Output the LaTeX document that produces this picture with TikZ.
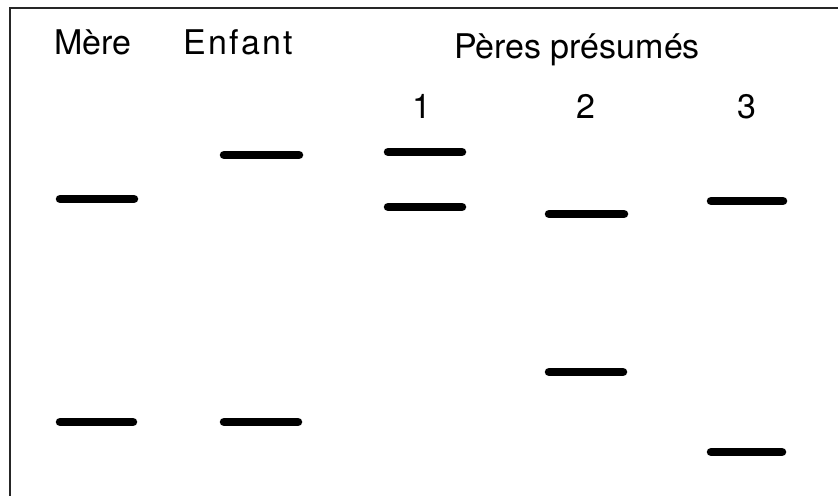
\documentclass[tikz,border=0pt]{standalone}
\usepackage{fontspec}
\setmainfont{TeX Gyre Heros}
\usepackage{tikz}

\begin{document}
\begin{tikzpicture}[x=1pt,y=-1pt]
\tikzstyle{lane}=[inner sep=0pt, anchor=base, font=\fontsize{34}{40}\selectfont]
\tikzstyle{band}=[line width=8.5pt, line cap=round, black]
\tikzstyle{frame}=[line width=2pt, black!85]
  \useasboundingbox (0,0) rectangle (838,496);
  % frame
  \coordinate (tl) at (10,8);
  \coordinate (tr) at (838,8);
  \coordinate (bl) at (10,496);
  \draw[frame] (tr) -- (tl) -- (bl);
  % lane titles
  \node[lane, anchor=base west] (mere) at (54,54) {Mère};
  \node[lane, anchor=base west] (enfant) at (183,54) {\addfontfeature{LetterSpace=7}Enfant};
  \node[lane] (peres) at (577,58) {Pères présumés};
  \node[lane] (p1) at (422,118) {1};
  \node[lane] (p2) at (586,118) {2};
  \node[lane] (p3) at (747,118) {3};
  % mere
  \draw[band] (60,199) -- (134,199);
  \draw[band] (60,422) -- (133,422);
  % enfant
  \draw[band] (224,155) -- (299,155);
  \draw[band] (224,422) -- (298,422);
  % pere 1
  \draw[band] (388,152) -- (462,152);
  \draw[band] (388,207) -- (462,207);
  % pere 2
  \draw[band] (549,214) -- (624,214);
  \draw[band] (549,372) -- (623,372);
  % pere 3
  \draw[band] (711,201) -- (783,201);
  \draw[band] (711,452) -- (782,452);
\end{tikzpicture}
\end{document}
